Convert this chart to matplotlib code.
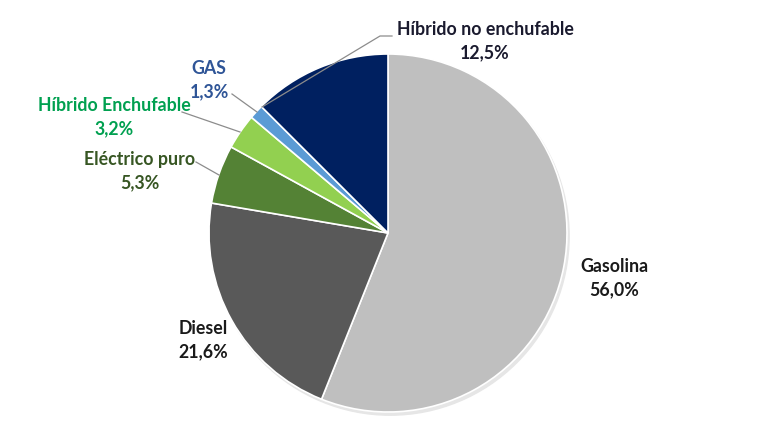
import matplotlib
matplotlib.use("Agg")
import matplotlib.pyplot as plt

categories = ["Gasolina", "Diesel", "Eléctrico puro", "Híbrido Enchufable", "GAS", "Híbrido no enchufable"]
values = [56.0, 21.6, 5.3, 3.2, 1.3, 12.5]
value_labels = ["56,0%", "21,6%", "5,3%", "3,2%", "1,3%", "12,5%"]

colors = ["#BFBFBF", "#595959", "#548235", "#92D050", "#5B9BD5", "#002060"]
label_colors = ["#1a1a1a", "#1a1a1a", "#375623", "#00A050", "#2F5597", "#1a1a2e"]

W, H = 760, 427
cx, cy, R = 388, 234, 179

def px(x, y):
    return ((x - cx) / R, (cy - y) / R)

fig = plt.figure(figsize=(W / 100, H / 100), dpi=100)
ax = fig.add_axes([0, 0, 1, 1])

# subtle shadow
shadow = plt.Circle((0.012, -0.018), 1.0, color="#e6e6e6", zorder=0)
ax.add_patch(shadow)

ax.pie(values, colors=colors, startangle=90, counterclock=False, radius=1.0,
       center=(0, 0), frame=True,
       wedgeprops=dict(edgecolor="white", linewidth=1.2, zorder=1))
ax.set_xlim((0 - cx) / R, (W - cx) / R)
ax.set_ylim((cy - H) / R, cy / R)
ax.axis("off")

label_pos = [(614, 278), (203, 340), (140, 171), (114, 117), (209, 80), (485, 41)]
leaders = [None, None,
           [(196, 163), (219, 176)],
           [(182, 113), (240, 133)],
           [(232, 95), (257, 113)],
           [(392, 37), (380, 37), (262, 108)]]

for cat, vl, col, pos, ld in zip(categories, value_labels, label_colors, label_pos, leaders):
    x, y = px(*pos)
    ax.text(x, y, f"{cat}\n{vl}", ha="center", va="center", fontsize=12.8,
            fontweight="bold", family=["Lato", "DejaVu Sans"], color=col,
            linespacing=1.45, zorder=5)
    if ld:
        xs, ys = zip(*[px(a, b) for a, b in ld])
        ax.plot(xs, ys, color="#8c8c8c", linewidth=0.9, zorder=4)

fig.savefig("out.png", dpi=100, facecolor="white")
